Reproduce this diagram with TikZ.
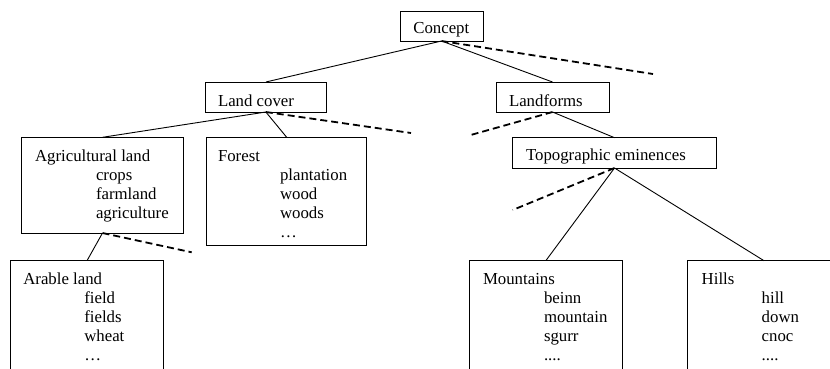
\documentclass[tikz,border=0pt]{standalone}
\usepackage{fontspec}
\setmainfont{Liberation Serif}
\newcommand\myfourdots{....}
\begin{document}
\begin{tikzpicture}[x=1pt,y=-1pt,
  box/.style={draw,line width=1pt,inner sep=0pt,outer sep=0pt,anchor=north west},
  txt/.style={inner sep=0pt,outer sep=0pt,anchor=base west,font=\fontsize{16.8}{19.2}\selectfont},
  link/.style={line width=0.9pt},
  dashlink/.style={line width=1.8pt,dash pattern=on 7pt off 4pt}]
\useasboundingbox (0,0) rectangle (830,368);
\clip (0,0) rectangle (830,368);
% boxes
\node[box,minimum width=83pt,minimum height=30pt] (concept) at (400,11) {};
\node[box,minimum width=120.3pt,minimum height=30pt] (landcover) at (205.7,82) {};
\node[box,minimum width=113pt,minimum height=30pt] (landforms) at (496,82) {};
\node[box,minimum width=204.4pt,minimum height=30.3pt] (topo) at (512.3,137.7) {};
\node[box,minimum width=161.6pt,minimum height=95.7pt] (agri) at (21.7,137.3) {};
\node[box,minimum width=160pt,minimum height=108.4pt] (forest) at (206.7,137.3) {};
\node[box,minimum width=152.6pt,minimum height=130pt] (arable) at (10.7,260.7) {};
\node[box,minimum width=153pt,minimum height=130pt] (mount) at (469.3,260.7) {};
\node[box,minimum width=153.4pt,minimum height=130pt] (hills) at (687.3,260.7) {};
% free ends of dashed connectors
\coordinate (d1) at (653,74);
\coordinate (d2) at (411,133);
\coordinate (d3) at (470.7,135);
\coordinate (d4) at (512.7,210);
\coordinate (d5) at (191.7,252.3);
% texts
\node[txt] (concept-t) at (413.3,33.3) {Concept};
\node[txt] (landcover-t) at (218,106) {Land cover};
\node[txt] (landforms-t) at (509,106) {Landforms};
\node[txt] (topo-t) at (526,160) {Topographic eminences};
\node[txt] (agri-t) at (35,161) {Agricultural land};
\foreach \w [count=\i] in {crops,farmland,agriculture}
  \node[txt] (agri-\i) at (96,{161+19.2*\i}) {\w};
\node[txt] (forest-t) at (218,161) {Forest};
\foreach \w [count=\i] in {plantation,wood,woods,…}
  \node[txt] (forest-\i) at (280,{161+19.2*\i}) {\w};
\node[txt] (arable-t) at (23.3,284) {Arable land};
\foreach \w [count=\i] in {field,fields,wheat,…}
  \node[txt] (arable-\i) at (84.3,{284+19.2*\i}) {\w};
\node[txt] (mount-t) at (483,284) {Mountains};
\foreach \w [count=\i] in {beinn,mountain,sgurr,\myfourdots}
  \node[txt] (mount-\i) at (544,{284+19.2*\i}) {\w};
\node[txt] (hills-t) at (701.7,284) {Hills};
\foreach \w [count=\i] in {hill,down,cnoc,\myfourdots}
  \node[txt] (hills-\i) at (761.7,{284+19.2*\i}) {\w};
% connectors
\draw[link] (concept.south) -- (landcover.north);
\draw[link] (concept.south) -- (landforms.north);
\draw[dashlink] (concept.south) -- (d1);
\draw[link] (landcover.south) -- (agri.north);
\draw[link] (landcover.south) -- (forest.north);
\draw[dashlink] (landcover.south) -- (d2);
\draw[link] (landforms.south) -- (topo.north);
\draw[dashlink] (landforms.south) -- (d3);
\draw[link] (topo.south) -- (mount.north);
\draw[link] (topo.south) -- (hills.north);
\draw[dashlink] (topo.south) -- (d4);
\draw[link] (agri.south) -- (arable.north);
\draw[dashlink] (agri.south) -- (d5);
\end{tikzpicture}
\end{document}
